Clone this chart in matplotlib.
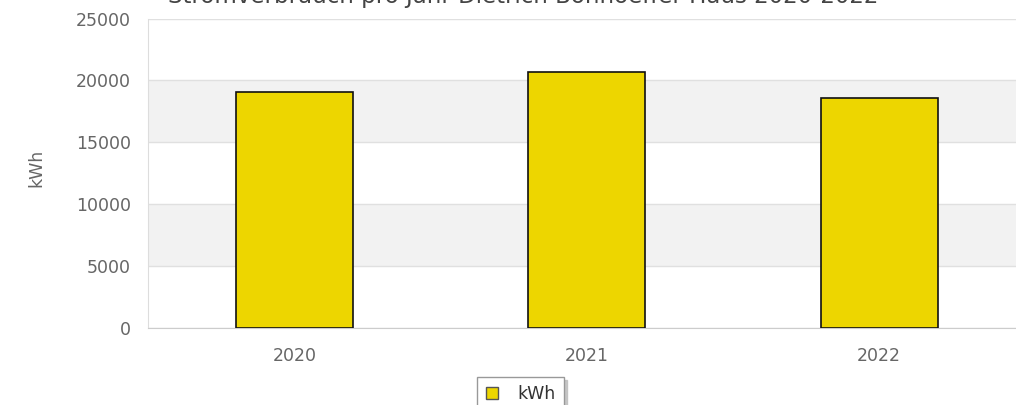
import matplotlib
matplotlib.use("Agg")
import matplotlib.pyplot as plt
from matplotlib.lines import Line2D

# yearly electricity consumption
years = ['2020', '2021', '2022']
consumption_kwh = [19050, 20650, 18600]
y_ticks = [0, 5000, 10000, 15000, 20000, 25000]

title = 'Stromverbrauch pro Jahr Dietrich Bonhoeffer Haus 2020-2022'
bar_color = '#EDD600'
label_color = '#666666'

fig = plt.figure(figsize=(10.16, 4.05), dpi=100)
ax = fig.add_axes([148 / 1016, 77 / 405, 877.5 / 1016, 309.5 / 405])

# alternating plot bands
for i in range(len(y_ticks) - 1):
    if i % 2 == 1:
        ax.axhspan(y_ticks[i], y_ticks[i + 1], color='#f2f2f2', zorder=0, lw=0)
for t in y_ticks:
    ax.axhline(t, color='#e0e0e0', lw=1, zorder=1)

x = range(len(years))
ax.bar(x, consumption_kwh, width=0.4, color=bar_color, edgecolor='#111111',
       linewidth=1.2, zorder=3)

ax.set_xlim(-0.5, 2.5)
ax.set_ylim(0, 25000)
ax.set_xticks(list(x))
ax.set_xticklabels(years)
ax.set_yticks(y_ticks)
ax.tick_params(axis='both', length=0, labelsize=12.5, labelcolor=label_color)
ax.tick_params(axis='x', pad=14)
ax.tick_params(axis='y', pad=12.5)
for s in ['top', 'right']:
    ax.spines[s].set_visible(False)
ax.spines['left'].set_color('#dddddd')
ax.spines['bottom'].set_color('#cccccc')

fig.text(36 / 1016, 1 - 168 / 405, 'kWh', rotation=90, ha='center', va='center',
         fontsize=12.5, color=label_color)

fig.text(523 / 1016, 1 - 3 / 405, title, ha='center', va='baseline',
         fontsize=16.5, color='#444444')

handle = Line2D([], [], marker='s', linestyle='none', markersize=8,
                markerfacecolor=bar_color, markeredgecolor='#555555')
leg = fig.legend([handle], ['kWh'], loc='upper left',
                 bbox_to_anchor=(477 / 1016, 1 - 377 / 405), borderaxespad=0,
                 fancybox=False, edgecolor='#999999', framealpha=1,
                 shadow={'color': '#bbbbbb', 'alpha': 0.8},
                 fontsize=12.5, handlelength=0.8, handletextpad=1.1,
                 borderpad=0.45)
for t in leg.get_texts():
    t.set_color('#333333')

fig.savefig('out.png', dpi=100)
